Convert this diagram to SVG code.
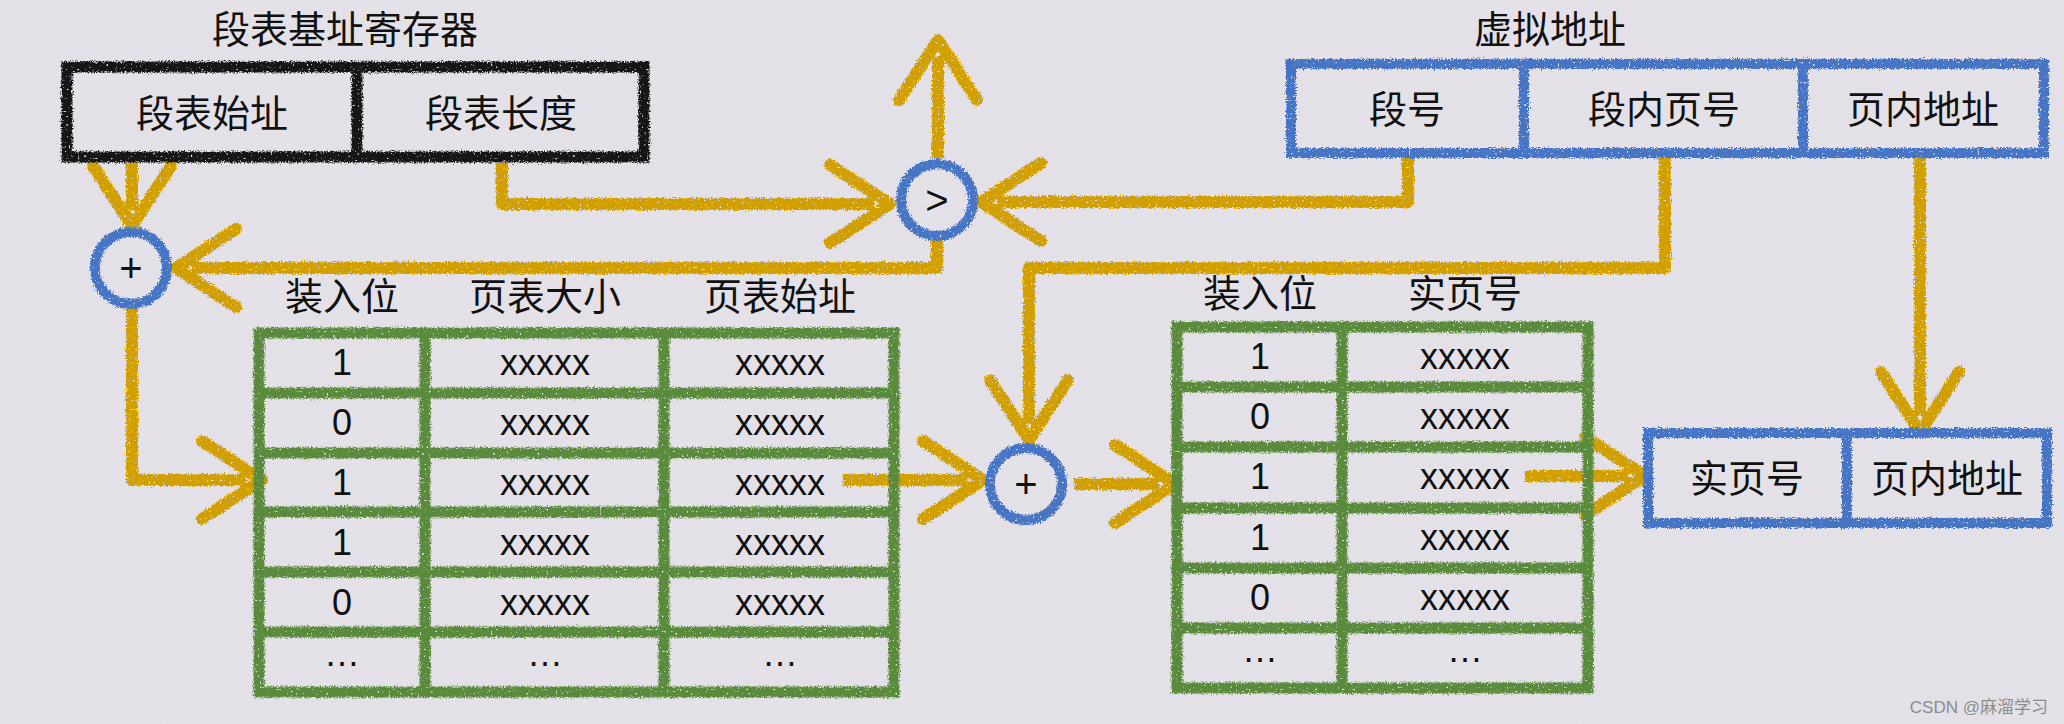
<svg xmlns="http://www.w3.org/2000/svg" width="2064" height="724" viewBox="0 0 2064 724">
<style>
.cjk{font-family:"Noto Sans CJK SC","Noto Sans",sans-serif;font-size:38px;fill:#111;text-anchor:middle}
.lat{font-family:"Liberation Sans",Arial,sans-serif;font-size:36px;fill:#111;text-anchor:middle}
.sym{font-family:"Liberation Sans",Arial,sans-serif;font-size:40px;fill:#111;text-anchor:middle}
.blk{fill:none;stroke:#141414;stroke-width:11}
.blu{fill:none;stroke:#4674C6;stroke-width:10}
.grn{fill:none;stroke:#5A8A3A;stroke-width:11}
.ylw{fill:none;stroke:#D29F00;stroke-width:12;stroke-linejoin:round;marker-end:url(#chev)}
.ring{fill:none;stroke:#4674C6;stroke-width:10}
.wm{font-family:"Liberation Sans","Noto Sans CJK SC",sans-serif;font-size:17px;fill:#8c8c8c;text-anchor:end}
</style>
<defs>
<filter id="chalk" filterUnits="userSpaceOnUse" x="0" y="0" width="2064" height="724">
<feTurbulence type="fractalNoise" baseFrequency="0.7" numOctaves="2" seed="4" result="n"/>
<feDisplacementMap in="SourceGraphic" in2="n" scale="6" xChannelSelector="R" yChannelSelector="G" result="d"/>
<feTurbulence type="fractalNoise" baseFrequency="0.45" numOctaves="1" seed="11" result="s"/>
<feColorMatrix in="s" type="matrix" values="0 0 0 0 0  0 0 0 0 0  0 0 0 0 0  -9 0 0 0 6.9" result="m"/>
<feComposite in="d" in2="m" operator="in"/>
</filter>
<filter id="grain" filterUnits="userSpaceOnUse" x="0" y="0" width="2064" height="724">
<feTurbulence type="fractalNoise" baseFrequency="0.9" numOctaves="2" seed="7"/>
<feColorMatrix type="matrix" values="0 0 0 0 0.5  0 0 0 0 0.5  0 0 0 0 0.55  0 0 0 -1.2 0.7"/>
</filter>
<marker id="chev" markerUnits="userSpaceOnUse" viewBox="0 0 140 100" markerWidth="140" markerHeight="100" refX="54" refY="50" orient="auto" overflow="visible">
<polyline points="10,11 70,50 10,89" fill="none" stroke="#D29F00" stroke-width="12" stroke-linecap="round" stroke-linejoin="round"/>
</marker>
</defs>
<rect width="2064" height="724" fill="#E4E2E8"/>
<rect width="2064" height="724" filter="url(#grain)" opacity="0.12"/>

<text class="cjk" x="345" y="43">段表基址寄存器</text>
<text class="cjk" x="1550" y="43">虚拟地址</text>

<g id="connectors" filter="url(#chalk)">
<path class="ylw" d="M132,163 V210"/>
<path class="ylw" d="M502,163 V204 H874"/>
<path class="ylw" d="M1408,158 V202 H997"/>
<path class="ylw" d="M938,158 V56"/>
<path class="ylw" d="M937,240 V268 H192"/>
<path class="ylw" d="M132,308 V480 H246"/>
<path class="ylw" d="M843,480 H967"/>
<path class="ylw" d="M1665,158 V268 H1029 V424"/>
<path class="ylw" d="M1074,484 H1159"/>
<path class="ylw" d="M1525,476 H1629"/>
<path class="ylw" d="M1920,158 V416"/>
</g>

<g id="seg-reg">
<g filter="url(#chalk)">
<rect class="blk" x="67" y="67" width="577" height="90"/>
<line class="blk" x1="357" y1="67" x2="357" y2="157"/>
</g>
<text class="cjk" x="212" y="127">段表始址</text>
<text class="cjk" x="501" y="127">段表长度</text>
</g>

<g id="vaddr">
<g filter="url(#chalk)">
<rect class="blu" x="1291" y="64" width="753" height="89"/>
<line class="blu" x1="1524" y1="64" x2="1524" y2="153"/>
<line class="blu" x1="1803" y1="64" x2="1803" y2="153"/>
</g>
<text class="cjk" x="1407" y="123">段号</text>
<text class="cjk" x="1664" y="123">段内页号</text>
<text class="cjk" x="1923" y="123">页内地址</text>
</g>

<g id="cmp">
<circle class="ring" cx="937" cy="200" r="36" filter="url(#chalk)"/>
<text class="sym" x="937" y="214">&gt;</text>
</g>

<g id="add1">
<circle class="ring" cx="131" cy="268" r="36" filter="url(#chalk)"/>
<text class="sym" x="131" y="282">+</text>
</g>

<g id="add2">
<circle class="ring" cx="1026" cy="484" r="36" filter="url(#chalk)"/>
<text class="sym" x="1026" y="498">+</text>
</g>

<g id="seg-table">
<text class="cjk" x="342" y="310">装入位</text>
<text class="cjk" x="545" y="310">页表大小</text>
<text class="cjk" x="780" y="310">页表始址</text>
<g filter="url(#chalk)">
<rect class="grn" x="259" y="333" width="635" height="359"/>
<line class="grn" x1="425" y1="333" x2="425" y2="692"/>
<line class="grn" x1="664" y1="333" x2="664" y2="692"/>
<line class="grn" x1="259" y1="393" x2="894" y2="393"/>
<line class="grn" x1="259" y1="453" x2="894" y2="453"/>
<line class="grn" x1="259" y1="512" x2="894" y2="512"/>
<line class="grn" x1="259" y1="572" x2="894" y2="572"/>
<line class="grn" x1="259" y1="632" x2="894" y2="632"/>
</g>
<text class="lat" x="342" y="375">1</text><text class="lat" x="545" y="375">xxxxx</text><text class="lat" x="780" y="375">xxxxx</text>
<text class="lat" x="342" y="435">0</text><text class="lat" x="545" y="435">xxxxx</text><text class="lat" x="780" y="435">xxxxx</text>
<text class="lat" x="342" y="495">1</text><text class="lat" x="545" y="495">xxxxx</text><text class="lat" x="780" y="495">xxxxx</text>
<text class="lat" x="342" y="555">1</text><text class="lat" x="545" y="555">xxxxx</text><text class="lat" x="780" y="555">xxxxx</text>
<text class="lat" x="342" y="615">0</text><text class="lat" x="545" y="615">xxxxx</text><text class="lat" x="780" y="615">xxxxx</text>
<text class="lat" x="342" y="666">…</text><text class="lat" x="545" y="666">…</text><text class="lat" x="780" y="666">…</text>
</g>

<g id="page-table">
<text class="cjk" x="1260" y="307">装入位</text>
<text class="cjk" x="1465" y="307">实页号</text>
<g filter="url(#chalk)">
<rect class="grn" x="1177" y="327" width="411" height="361"/>
<line class="grn" x1="1342" y1="327" x2="1342" y2="688"/>
<line class="grn" x1="1177" y1="387" x2="1588" y2="387"/>
<line class="grn" x1="1177" y1="447" x2="1588" y2="447"/>
<line class="grn" x1="1177" y1="508" x2="1588" y2="508"/>
<line class="grn" x1="1177" y1="568" x2="1588" y2="568"/>
<line class="grn" x1="1177" y1="628" x2="1588" y2="628"/>
</g>
<text class="lat" x="1260" y="369">1</text><text class="lat" x="1465" y="369">xxxxx</text>
<text class="lat" x="1260" y="429">0</text><text class="lat" x="1465" y="429">xxxxx</text>
<text class="lat" x="1260" y="489">1</text><text class="lat" x="1465" y="489">xxxxx</text>
<text class="lat" x="1260" y="550">1</text><text class="lat" x="1465" y="550">xxxxx</text>
<text class="lat" x="1260" y="610">0</text><text class="lat" x="1465" y="610">xxxxx</text>
<text class="lat" x="1260" y="662">…</text><text class="lat" x="1465" y="662">…</text>
</g>

<g id="phys-addr">
<g filter="url(#chalk)">
<rect class="blu" x="1648" y="433" width="399" height="90"/>
<line class="blu" x1="1847" y1="433" x2="1847" y2="523"/>
</g>
<text class="cjk" x="1747" y="492">实页号</text>
<text class="cjk" x="1947" y="492">页内地址</text>
</g>

<text class="wm" x="2048" y="713">CSDN @麻溜学习</text>
</svg>
